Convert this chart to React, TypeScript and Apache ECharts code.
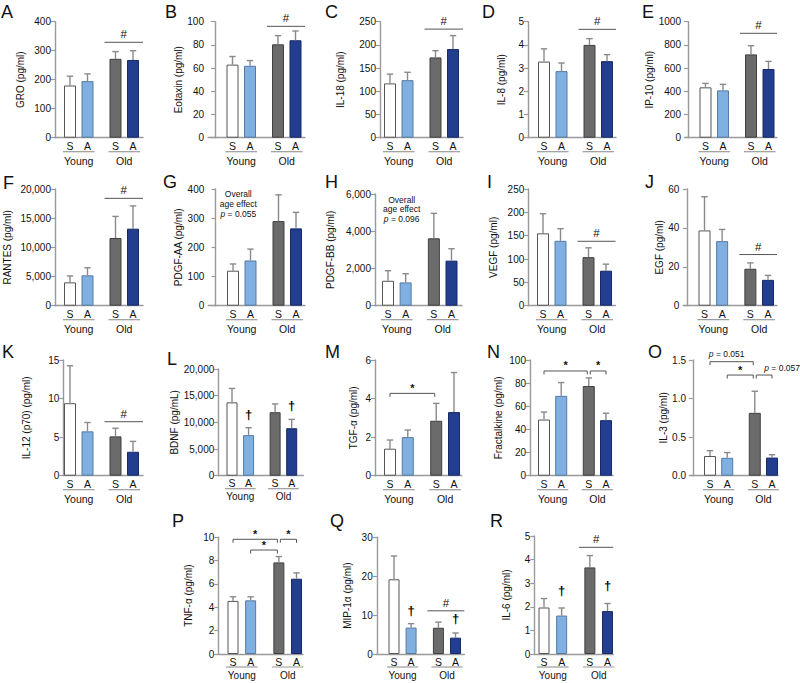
import React, { useEffect, useRef } from 'react';
import * as echarts from 'echarts';

// ---------- data ----------
const groups = ['S', 'A', 'S', 'A'];
const ages = ['Young', 'Old'];
const xPos = [1, 2, 3.6, 4.6];

const groMean = [180, 195, 272, 268];
const groUpper = [212, 220, 297, 300];
const eotaxinMean = [63, 62, 80.5, 84];
const eotaxinUpper = [70, 66.5, 88, 92];
const il18Mean = [117, 124, 173, 191];
const il18Upper = [137, 141, 187.5, 220];
const il8Mean = [3.28, 2.87, 4.0, 3.3];
const il8Upper = [3.83, 3.22, 4.27, 3.58];
const ip10Mean = [434, 408, 718, 592];
const ip10Upper = [468, 460, 793, 658];
const rantesMean = [4000, 5200, 11600, 13200];
const rantesUpper = [5100, 6500, 15300, 17100];
const pdgfaaMean = [120, 155, 290, 265];
const pdgfaaUpper = [143, 194, 380, 320];
const pdgfbbMean = [1340, 1250, 3620, 2420];
const pdgfbbUpper = [1880, 1720, 4960, 3060];
const vegfMean = [155, 139, 104, 75];
const vegfUpper = [197, 165, 124, 89];
const egfMean = [38.7, 33.2, 19, 13.3];
const egfUpper = [56, 39.2, 22, 15.6];
const il12Mean = [9.4, 5.75, 5.1, 3.1];
const il12Upper = [14.25, 6.9, 6.15, 4.45];
const bdnfMean = [13750, 7600, 11900, 8900];
const bdnfUpper = [16350, 9000, 13450, 10550];
const tgfaMean = [1.4, 2.0, 2.85, 3.3];
const tgfaUpper = [1.85, 2.37, 3.75, 5.35];
const fractalkineMean = [48.5, 69, 77.5, 48];
const fractalkineUpper = [55, 80.5, 84.5, 54];
const il3Mean = [0.255, 0.232, 0.815, 0.235];
const il3Upper = [0.325, 0.3, 1.095, 0.272];
const tnfaMean = [4.55, 4.6, 7.85, 6.45];
const tnfaUpper = [4.9, 4.9, 8.35, 6.95];
const mip1aMean = [19.2, 6.8, 6.75, 4.2];
const mip1aUpper = [25.2, 7.8, 8.2, 5.4];
const il6Mean = [1.97, 1.63, 3.67, 1.82];
const il6Upper = [2.35, 1.95, 4.17, 2.14];

// ---------- styles ----------
const FONT = '"Liberation Sans", Arial, Helvetica, sans-serif';
const fills = ['#ffffff', '#7fb0e1', '#6b6b6b', '#233d8f'];
const borders = ['#555555', '#557aa3', '#404040', '#172a68'];
const AXIS = '#9a9a9a';
const ERR = '#8a8a8a';
const TXT = '#111111';

type Bracket = { from: number; to: number; y: number; label: string; align?: string; dx?: number };
type Panel = {
  letter: string; name: string; mean: number[]; upper: number[]; max: number; interval: number;
  dec?: number; plain?: boolean; hash?: number; brackets?: Bracket[]; daggers?: { i: number; v: number }[];
  ax: number; c1: number; c4: number; e: number; top: number; bottom: number; nameX: number;
  lx: number; ly: number; small?: boolean;
};

const R1T = 21.7, R1B = 137.7, R2T = 189, R2B = 305.7, R3T = 360, R3B = 475.7, R4T = 537.3, R4B = 654;

const panels: Panel[] = [
  { letter: 'A', name: 'GRO (pg/ml)', mean: groMean, upper: groUpper, max: 400, interval: 100, hash: 329,
    ax: 55, c1: 70, c4: 133, e: 143, top: R1T, bottom: R1B, nameX: 20, lx: 1, ly: 12 },
  { letter: 'B', name: 'Eotaxin (pg/ml)', mean: eotaxinMean, upper: eotaxinUpper, max: 100, interval: 20, hash: 96,
    ax: 208, c1: 232.5, c4: 295.5, e: 305, top: R1T, bottom: R1B, nameX: 181.7, lx: 165, ly: 12 },
  { letter: 'C', name: 'IL-18 (pg/ml)', mean: il18Mean, upper: il18Upper, max: 250, interval: 50, hash: 234,
    ax: 380, c1: 390, c4: 453, e: 463, top: R1T, bottom: R1B, nameX: 340.7, lx: 325, ly: 12 },
  { letter: 'D', name: 'IL-8 (pg/ml)', mean: il8Mean, upper: il8Upper, max: 5, interval: 1, hash: 4.67,
    ax: 528, c1: 544, c4: 607, e: 616, top: R1T, bottom: R1B, nameX: 501.7, lx: 482, ly: 12 },
  { letter: 'E', name: 'IP-10 (pg/ml)', mean: ip10Mean, upper: ip10Upper, max: 1000, interval: 200, hash: 900, plain: true,
    ax: 685, c1: 705.5, c4: 768.5, e: 777, top: R1T, bottom: R1B, nameX: 661.7, lx: 642, ly: 12 },

  { letter: 'F', name: 'RANTES (pg/ml)', mean: rantesMean, upper: rantesUpper, max: 20000, interval: 5000, hash: 18400,
    ax: 55, c1: 70, c4: 133, e: 143, top: R2T, bottom: R2B, nameX: 7.5, lx: 3, ly: 182.5 },
  { letter: 'G', name: 'PDGF-AA (pg/ml)', mean: pdgfaaMean, upper: pdgfaaUpper, max: 400, interval: 100,
    ax: 208.3, c1: 233, c4: 296, e: 305, top: R2T, bottom: R2B, nameX: 182.7, lx: 163, ly: 182 },
  { letter: 'H', name: 'PDGF-BB (pg/ml)', mean: pdgfbbMean, upper: pdgfbbUpper, max: 6000, interval: 2000,
    ax: 375, c1: 388, c4: 451.5, e: 462, top: 194, bottom: R2B, nameX: 330, lx: 325, ly: 182 },
  { letter: 'I', name: 'VEGF (pg/ml)', mean: vegfMean, upper: vegfUpper, max: 250, interval: 50, hash: 138,
    ax: 528.3, c1: 543, c4: 606, e: 615.5, top: R2T, bottom: R2B, nameX: 493.3, lx: 487, ly: 182 },
  { letter: 'J', name: 'EGF (pg/ml)', mean: egfMean, upper: egfUpper, max: 60, interval: 20, hash: 26.3,
    ax: 683.3, c1: 704.5, c4: 768, e: 777, top: R2T, bottom: R2B, nameX: 661.7, lx: 645, ly: 182 },

  { letter: 'K', name: 'IL-12 (p70) (pg/ml)', mean: il12Mean, upper: il12Upper, max: 15, interval: 5, hash: 7.0,
    ax: 63.3, c1: 70, c4: 133, e: 143, top: R3T, bottom: R3B, nameX: 26.7, lx: 2, ly: 351.5 },
  { letter: 'L', name: 'BDNF (pg/mL)', mean: bdnfMean, upper: bdnfUpper, max: 20000, interval: 5000,
    daggers: [{ i: 1, v: 11510 }, { i: 3, v: 13120 }], small: true,
    ax: 218.3, c1: 232, c4: 291.7, e: 303.3, top: 369, bottom: R3B, nameX: 175, lx: 167, ly: 359 },
  { letter: 'M', name: 'TGF-α (pg/ml)', mean: tgfaMean, upper: tgfaUpper, max: 6, interval: 2,
    brackets: [{ from: 0, to: 2, y: 4.27, label: '*' }],
    ax: 375, c1: 390, c4: 454, e: 461.7, top: R3T, bottom: R3B, nameX: 353.3, lx: 325, ly: 351.5 },
  { letter: 'N', name: 'Fractalkine (pg/ml)', mean: fractalkineMean, upper: fractalkineUpper, max: 100, interval: 20,
    brackets: [{ from: 0, to: 2, y: 90.5, label: '*' }, { from: 2, to: 3, y: 90.5, label: '*' }],
    ax: 530, c1: 544, c4: 606, e: 613, top: R3T, bottom: R3B, nameX: 498.3, lx: 487, ly: 351.5 },
  { letter: 'O', name: 'IL-3 (pg/ml)', mean: il3Mean, upper: il3Upper, max: 1.5, interval: 0.5, dec: 1,
    brackets: [
      { from: 0, to: 2, y: 1.478, label: 'p = 0.051', dx: -5 },
      { from: 1, to: 2, y: 1.305, label: '*' },
      { from: 2, to: 3, y: 1.305, label: 'p = 0.057', align: 'left', dx: 8 },
    ],
    ax: 690, c1: 710, c4: 772, e: 778, top: R3T, bottom: R3B, nameX: 663.3, lx: 648, ly: 351.5 },

  { letter: 'P', name: 'TNF-α (pg/ml)', mean: tnfaMean, upper: tnfaUpper, max: 10, interval: 2,
    brackets: [
      { from: 0, to: 2, y: 9.83, label: '*' },
      { from: 2, to: 3, y: 9.83, label: '*' },
      { from: 1, to: 2, y: 8.91, label: '*' },
    ], small: true,
    ax: 218.3, c1: 233, c4: 296.5, e: 303, top: R4T, bottom: R4B, nameX: 188.3, lx: 172, ly: 520.5 },
  { letter: 'Q', name: 'MIP-1α (pg/ml)', mean: mip1aMean, upper: mip1aUpper, max: 30, interval: 10, hash: 11.1,
    daggers: [{ i: 1, v: 11.3 }, { i: 3, v: 9.0 }], small: true,
    ax: 376.7, c1: 394, c4: 455.5, e: 464.3, top: R4T, bottom: R4B, nameX: 347.3, lx: 330, ly: 520.5 },
  { letter: 'R', name: 'IL-6 (pg/ml)', mean: il6Mean, upper: il6Upper, max: 5, interval: 1, hash: 4.52,
    daggers: [{ i: 1, v: 2.68 }, { i: 3, v: 2.92 }], small: true,
    ax: 534.3, c1: 544, c4: 607.5, e: 613.3, top: 536, bottom: R4B, nameX: 506.7, lx: 490, ly: 521 },
];

const notes = [
  { x: 238.3, y: 189.5, text: 'Overall\nage effect\n{i|p} = 0.055' },
  { x: 401.7, y: 194.8, text: 'Overall\nage effect\n{i|p} = 0.096' },
];

function fmtTick(v: number, dec?: number, plain?: boolean) {
  if (dec) return v.toFixed(dec);
  if (v >= 1000 && !plain) return v.toLocaleString('en-US');
  return String(v);
}

function richLabel(label: string) {
  return label.startsWith('p =') ? '{i|p}' + label.slice(1) : label;
}

function buildOption() {
  const grid: any[] = [], xAxis: any[] = [], yAxis: any[] = [], series: any[] = [];
  panels.forEach((p, k) => {
    const unit = (p.c4 - p.c1) / (xPos[3] - xPos[0]);
    const xmin = xPos[0] - (p.c1 - p.ax) / unit;
    const xmax = xmin + (p.e - p.ax) / unit;
    grid.push({ left: p.ax, top: p.top, width: p.e - p.ax, height: p.bottom - p.top, containLabel: false });
    xAxis.push({
      gridIndex: k, type: 'value', min: xmin, max: xmax,
      axisLine: { show: true, lineStyle: { color: AXIS, width: 1.4 } },
      axisTick: { show: false }, axisLabel: { show: false }, splitLine: { show: false },
    });
    yAxis.push({
      gridIndex: k, type: 'value', min: 0, max: p.max, interval: p.interval,
      axisLine: { show: true, lineStyle: { color: AXIS, width: 1.4 } },
      axisTick: { show: true, length: 4, lineStyle: { color: AXIS, width: 1.2 } },
      axisLabel: { fontSize: 10, color: TXT, margin: 4, fontFamily: FONT, formatter: (v: number) => fmtTick(v, p.dec, p.plain) },
      splitLine: { show: false },
      name: p.name, nameLocation: 'middle', nameGap: p.ax - p.nameX - 5,
      nameTextStyle: { fontSize: 10, color: TXT, fontFamily: FONT },
    });
    series.push({
      type: 'bar', xAxisIndex: k, yAxisIndex: k, barWidth: p.small ? 11 : 12, silent: true,
      data: p.mean.map((m, i) => ({
        value: [xPos[i], m],
        itemStyle: { color: fills[i], borderColor: borders[i], borderWidth: 1 },
      })),
    });
    series.push({
      type: 'custom', xAxisIndex: k, yAxisIndex: k, silent: true, clip: false, z: 3,
      data: p.mean.map((m, i) => [xPos[i], m, p.upper[i]]),
      renderItem: (params: any, api: any) => {
        const a = api.coord([api.value(0), api.value(1)]);
        const b = api.coord([api.value(0), api.value(2)]);
        return {
          type: 'group', children: [
            { type: 'line', shape: { x1: a[0], y1: a[1], x2: b[0], y2: b[1] }, style: { stroke: ERR, lineWidth: 1.4 } },
            { type: 'line', shape: { x1: b[0] - 3.2, y1: b[1], x2: b[0] + 3.2, y2: b[1] }, style: { stroke: ERR, lineWidth: 1.4 } },
          ],
        };
      },
    });
    series.push({
      type: 'custom', xAxisIndex: k, yAxisIndex: k, silent: true, clip: false, z: 4,
      data: [[xPos[0], 0]],
      renderItem: (params: any, api: any) => {
        const y0 = api.coord([xPos[0], 0])[1];
        const xs = xPos.map((x) => api.coord([x, 0])[0]);
        const xEnd = api.coord([xmax, 0])[0];
        const sub = p.small ? { sa: 7.7, ul: 13, age: 21, fs: 10.5, afs: 10 } : { sa: 8, ul: 14, age: 23.5, fs: 10.5, afs: 10.5 };
        const ch: any[] = [];
        groups.forEach((g, i) => ch.push({
          type: 'text', x: xs[i], y: y0 + sub.sa,
          style: { text: g, fontSize: sub.fs, fill: TXT, align: 'center', verticalAlign: 'middle', fontFamily: FONT },
        }));
        [[0, 1], [2, 3]].forEach(([i0, i1], gi) => {
          ch.push({ type: 'line', shape: { x1: xs[i0] - 7, y1: y0 + sub.ul, x2: xs[i1] + 7, y2: y0 + sub.ul }, style: { stroke: AXIS, lineWidth: 1.2 } });
          ch.push({
            type: 'text', x: (xs[i0] + xs[i1]) / 2, y: y0 + sub.age,
            style: { text: ages[gi], fontSize: sub.afs, fill: TXT, align: 'center', verticalAlign: 'middle', fontFamily: FONT },
          });
        });
        if (p.hash !== undefined) {
          const hy = api.coord([xPos[0], p.hash])[1];
          ch.push({ type: 'line', shape: { x1: xs[2] - 11, y1: hy, x2: xEnd, y2: hy }, style: { stroke: '#555', lineWidth: 1 } });
          ch.push({
            type: 'text', x: (xs[2] - 11 + xEnd) / 2, y: hy - 8,
            style: { text: '#', fontSize: 11.5, fill: TXT, align: 'center', verticalAlign: 'middle', fontFamily: FONT },
          });
        }
        (p.brackets || []).forEach((br) => {
          const by = api.coord([xPos[0], br.y])[1];
          const xa = xs[br.from] + (br.from === 2 ? 1.5 : 0);
          const xb = xs[br.to] - (br.to === 2 ? 1.5 : 0);
          ch.push({
            type: 'polyline', shape: { points: [[xa, by + 3.5], [xa, by], [xb, by], [xb, by + 3.5]] },
            style: { stroke: '#555', lineWidth: 1, fill: null },
          });
          const isStar = br.label === '*';
          ch.push({
            type: 'text',
            x: br.align === 'left' ? xa + (br.dx || 0) : (xa + xb) / 2 + (br.dx || 0),
            y: by - (isStar ? 5.5 : 7.5),
            style: {
              text: richLabel(br.label), fontSize: isStar ? 11 : 8.5, fontWeight: isStar ? 'bold' : 'normal', fill: TXT,
              align: br.align || 'center', verticalAlign: 'middle', fontFamily: FONT,
              rich: { i: { fontStyle: 'italic', fontSize: 8.5, fontFamily: FONT, fill: TXT } },
            },
          });
        });
        (p.daggers || []).forEach((d) => {
          const pt = api.coord([xPos[d.i], d.v]);
          ch.push({
            type: 'text', x: pt[0], y: pt[1],
            style: { text: '†', fontSize: 13, fontWeight: 'bold', fill: '#000000', align: 'center', verticalAlign: 'middle', fontFamily: FONT },
          });
        });
        return { type: 'group', children: ch };
      },
    });
  });

  const graphic: any[] = panels.map((p) => ({
    type: 'text', x: p.lx, y: p.ly, silent: true,
    style: { text: p.letter, fontSize: 18, fill: '#111', align: 'left', verticalAlign: 'middle', fontFamily: FONT },
  }));
  notes.forEach((n) => graphic.push({
    type: 'text', x: n.x, y: n.y, silent: true,
    style: {
      text: n.text, fontSize: 8.5, lineHeight: 9.6, fill: TXT, align: 'center', verticalAlign: 'top', fontFamily: FONT,
      rich: { i: { fontStyle: 'italic', fontSize: 8.5, fontFamily: FONT, fill: TXT } },
    },
  }));

  return { animation: false, backgroundColor: '#ffffff', textStyle: { fontFamily: FONT }, grid, xAxis, yAxis, series, graphic };
}

export default function App() {
  const ref = useRef<HTMLDivElement>(null);
  useEffect(() => {
    if (!ref.current) return;
    const chart = echarts.init(ref.current, null, { renderer: 'svg' });
    chart.setOption(buildOption() as any);
    return () => chart.dispose();
  }, []);
  return <div ref={ref} style={{ width: 800, height: 683, position: 'absolute', left: 0, top: 0 }} />;
}
